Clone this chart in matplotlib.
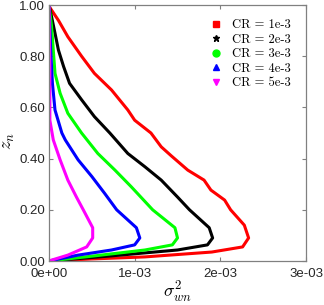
import matplotlib
matplotlib.use("Agg")
import matplotlib.pyplot as plt
from matplotlib.lines import Line2D
import numpy as np

plt.rcParams["mathtext.fontset"] = "cm"

# values (x in units of 1e-3)
labels = ["CR = 1e-3", "CR = 2e-3", "CR = 3e-3", "CR = 4e-3", "CR = 5e-3"]
colors = ["#ff0000", "#000000", "#00ff00", "#0000ff", "#ff00ff"]
markers = ["s", "*", "o", "^", "v"]

z_cr1 = [1.0, 0.99, 0.94, 0.876, 0.80, 0.733, 0.668, 0.59, 0.55, 0.50, 0.446, 0.41, 0.355,
         0.316, 0.277, 0.238, 0.20, 0.14, 0.09, 0.055, 0.035, 0.016, 0.008, 0.0]
x_cr1 = [0.0, 0.01, 0.11, 0.22, 0.38, 0.53, 0.73, 0.92, 1.0, 1.19, 1.31, 1.43, 1.62,
         1.81, 1.89, 2.05, 2.12, 2.28, 2.33, 2.26, 1.90, 1.12, 0.50, 0.0]

z_cr2 = [1.0, 0.954, 0.89, 0.824, 0.76, 0.694, 0.63, 0.564, 0.50, 0.42, 0.368, 0.316, 0.25,
         0.20, 0.13, 0.09, 0.063, 0.043, 0.02, 0.0]
x_cr2 = [0.0, 0.03, 0.07, 0.11, 0.17, 0.24, 0.38, 0.53, 0.71, 0.92, 1.12, 1.31, 1.50,
         1.64, 1.87, 1.91, 1.85, 1.50, 0.73, 0.0]

z_cr3 = [1.0, 0.916, 0.824, 0.733, 0.655, 0.577, 0.50, 0.42, 0.355, 0.29, 0.20, 0.13,
         0.09, 0.063, 0.043, 0.02, 0.0]
x_cr3 = [0.0, 0.03, 0.05, 0.07, 0.13, 0.22, 0.38, 0.57, 0.77, 0.96, 1.21, 1.47,
         1.50, 1.44, 1.12, 0.53, 0.0]

z_cr4 = [1.0, 0.82, 0.694, 0.59, 0.50, 0.473, 0.395, 0.33, 0.264, 0.20, 0.13, 0.09,
         0.063, 0.043, 0.023, 0.0]
x_cr4 = [0.0, 0.02, 0.04, 0.07, 0.15, 0.19, 0.34, 0.50, 0.65, 0.79, 1.02, 1.06,
         1.00, 0.73, 0.34, 0.0]

z_cr5 = [1.0, 0.76, 0.55, 0.473, 0.395, 0.316, 0.25, 0.20, 0.13, 0.09, 0.055, 0.023, 0.004, 0.0]
x_cr5 = [0.0, 0.01, 0.01, 0.05, 0.13, 0.22, 0.32, 0.40, 0.51, 0.51, 0.44, 0.22, 0.035, 0.0]

xs = [x_cr1, x_cr2, x_cr3, x_cr4, x_cr5]
zs = [z_cr1, z_cr2, z_cr3, z_cr4, z_cr5]

xticks = [0, 1e-3, 2e-3, 3e-3]
xticklabels = ["0e+00", "1e-03", "2e-03", "3e-03"]
yticks = [0, 0.2, 0.4, 0.6, 0.8, 1.0]
yticklabels = ["0.00", "0.20", "0.40", "0.60", "0.80", "1.00"]

fig = plt.figure(figsize=(3.24, 3.05), dpi=100)
ax = fig.add_axes([49 / 324, 44 / 305, 257 / 324, 256 / 305])

for x, z, c in zip(xs, zs, colors):
    ax.plot(np.array(x) * 1e-3, z, color=c, lw=2.2,
            solid_capstyle="round", solid_joinstyle="round")

ax.set_xlim(0, 3e-3)
ax.set_ylim(0, 1)
ax.set_xticks(xticks)
ax.set_xticklabels(xticklabels)
ax.set_yticks(yticks)
ax.set_yticklabels(yticklabels)
ax.tick_params(direction="in", length=3, width=0.8, color="#808080",
               top=True, right=True, labelsize=9.5, labelcolor="#262626")
ax.tick_params(axis="x", pad=5)
ax.tick_params(axis="y", pad=3)
for lab in ax.get_xticklabels() + ax.get_yticklabels():
    lab.set_fontfamily("Liberation Sans")
for sp in ax.spines.values():
    sp.set_color("#808080")
    sp.set_linewidth(0.9)

ax.set_xlabel(r"$\sigma^2_{wn}$", fontsize=13, labelpad=0)
ax.set_ylabel(r"$z_n$", fontsize=13)
ax.yaxis.set_label_coords(-0.125, 0.47)

handles = [Line2D([], [], ls="none", marker=m, color=c, markersize=5)
           for m, c in zip(markers, colors)]
ax.legend(handles, labels, loc="upper right", bbox_to_anchor=(0.985, 0.99),
          frameon=False, handlelength=1.0, handletextpad=0.8,
          labelspacing=0.2, prop={"family": "cmr10", "size": 9})

fig.savefig("out.png", dpi=100)
